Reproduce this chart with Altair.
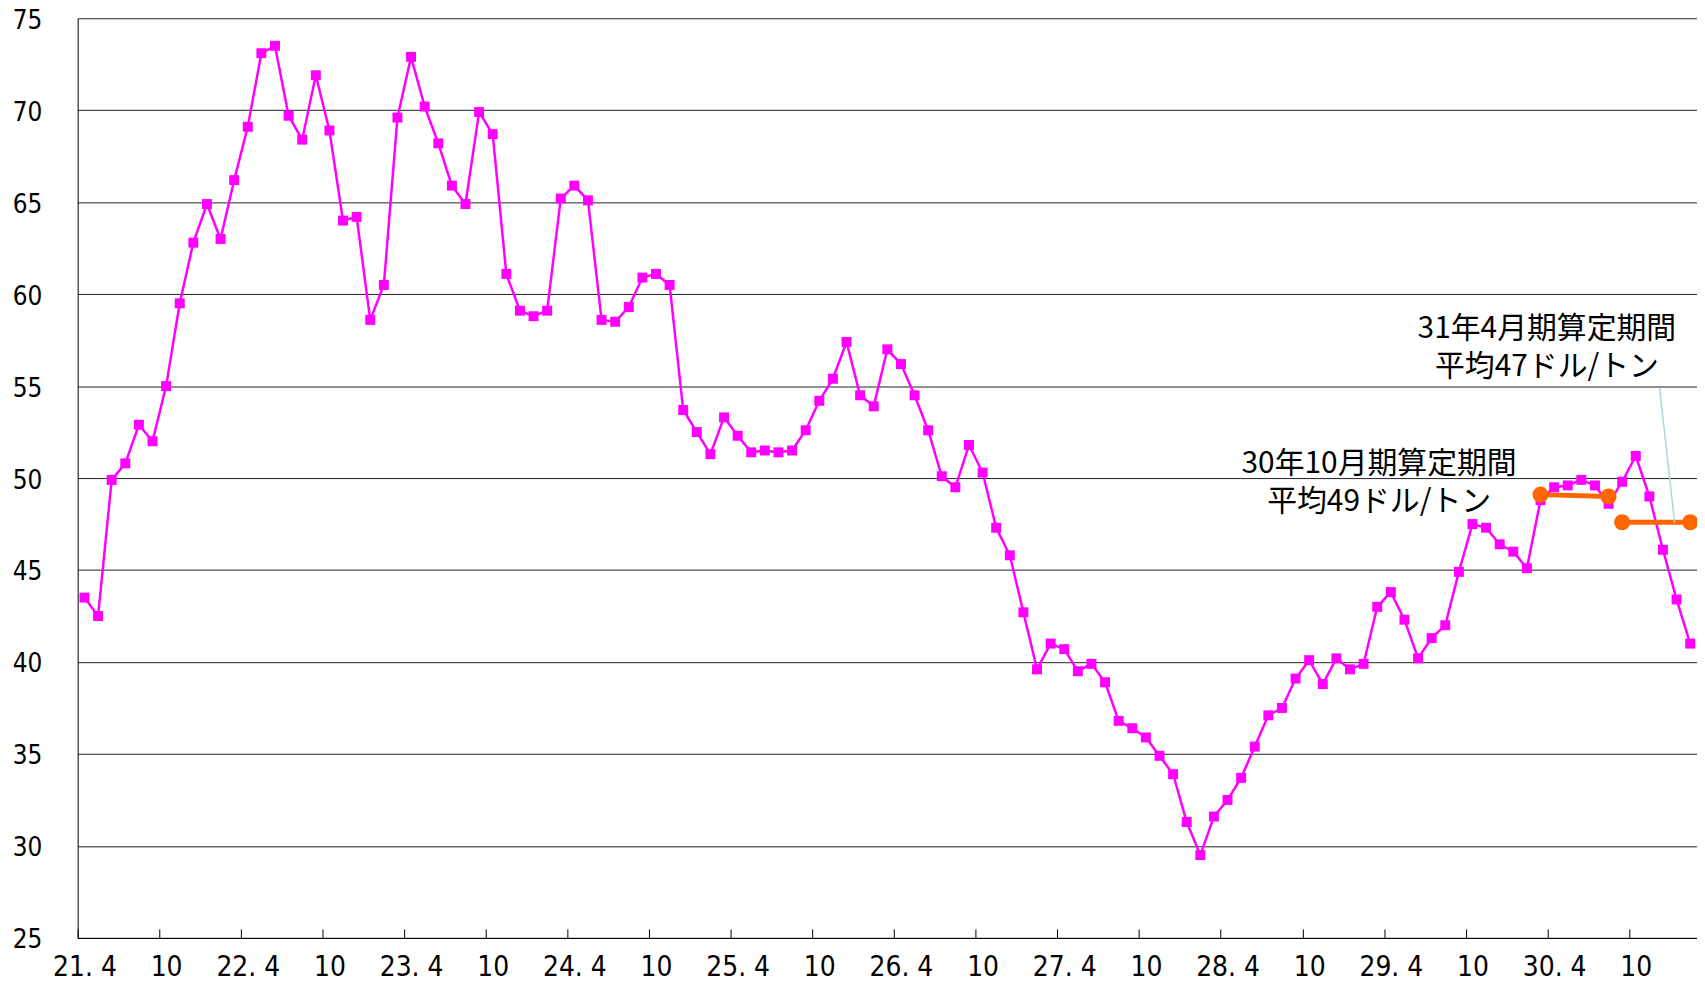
import altair as alt
import pandas as pd

# Monthly price (US$/t), from Heisei 21.4 (Apr 2009) to 31.2 (Feb 2019)
price_2009 = [43.5, 42.5, 49.9, 50.8, 52.9, 52.0, 55.0, 59.5, 62.8]
price_2010 = [64.9, 63.0, 66.2, 69.1, 73.1, 73.5, 69.7, 68.4, 71.9, 68.9, 64.0, 64.2]
price_2011 = [58.6, 60.5, 69.6, 72.9, 70.2, 68.2, 65.9, 64.9, 69.9, 68.7, 61.1, 59.1]
price_2012 = [58.8, 59.1, 65.2, 65.9, 65.1, 58.6, 58.5, 59.3, 60.9, 61.1, 60.5, 53.7]
price_2013 = [52.5, 51.3, 53.3, 52.3, 51.4, 51.5, 51.4, 51.5, 52.6, 54.2, 55.4, 57.4]
price_2014 = [54.5, 53.9, 57.0, 56.2, 54.5, 52.6, 50.1, 49.5, 51.8, 50.3, 47.3, 45.8]
price_2015 = [42.7, 39.6, 41.0, 40.7, 39.5, 39.9, 38.9, 36.8, 36.4, 35.9, 34.9, 33.9]
price_2016 = [31.3, 29.5, 31.6, 32.5, 33.7, 35.4, 37.1, 37.5, 39.1, 40.1, 38.8, 40.2]
price_2017 = [39.6, 39.9, 43.0, 43.8, 42.3, 40.2, 41.3, 42.0, 44.9, 47.5, 47.3, 46.4]
price_2018 = [46.0, 45.1, 48.8, 49.5, 49.6, 49.9, 49.6, 48.6, 49.8, 51.2, 49.0, 46.1]
price_2019 = [43.4, 41.0]

tick_labels = ["21. 4", "10", "22. 4", "10", "23. 4", "10", "24. 4", "10",
               "25. 4", "10", "26. 4", "10", "27. 4", "10", "28. 4", "10",
               "29. 4", "10", "30. 4", "10"]
y_ticks = [25, 30, 35, 40, 45, 50, 55, 60, 65, 70, 75]

# averaging periods (orange segments): month index of start/end and level
avg_seg = [0, 0, 1, 1]
avg_month = [107, 112, 113, 118]
avg_value = [49.1, 49.0, 47.6, 47.6]

# annotation notes (two lines each; position of the first line in month / price units)
note_line1 = ["30年10月期算定期間", "31年4月期算定期間"]
note_line2 = ["平均49ドル/トン", "平均47ドル/トン"]
note_x = [95.64, 107.97]
note_y = [50.75, 58.08]

# leader line from the 31年4月期 note to its segment
leader_x1 = [116.25]
leader_y1 = [54.9]
leader_x2 = [117.35]
leader_y2 = [47.6]

prices = (price_2009 + price_2010 + price_2011 + price_2012 + price_2013 + price_2014
          + price_2015 + price_2016 + price_2017 + price_2018 + price_2019)
n = len(prices)

df = pd.DataFrame({"m": list(range(n)), "price": prices})
avg_df = pd.DataFrame({"seg": avg_seg, "m": avg_month, "val": avg_value})
note_df = pd.DataFrame({"text": [a + "\n" + b for a, b in zip(note_line1, note_line2)],
                        "x": note_x, "y": note_y})
leader_df = pd.DataFrame({"x1": leader_x1, "y1": leader_y1, "x2": leader_x2, "y2": leader_y2})

W, H = 1627, 924
band = W / n

num_font = "DejaVu Sans Condensed, DejaVu Sans, sans-serif"
jp_font = "Noto Sans CJK JP"

x_scale = alt.Scale(domain=[0, n], nice=False, zero=False)
y_scale = alt.Scale(domain=[25, 75], nice=False, zero=False)

tick_vals = [6 * i for i in range(len(tick_labels))]
label_expr = "[" + ",".join("'%s'" % t for t in tick_labels) + "][round(datum.value / 6)]"

label_axis = alt.Axis(orient="bottom", values=tick_vals, labelExpr=label_expr,
                      ticks=False, tickSize=0, domain=True, domainColor="black",
                      domainWidth=1, grid=False, labelFont=num_font, labelFontSize=28,
                      labelColor="black", labelBaseline="alphabetic", labelPadding=38,
                      labelOffset=band / 2, labelAlign="center", labelFlush=False,
                      labelOverlap=False, title=None)
tick_axis = alt.Axis(orient="top", offset=-H, values=tick_vals, labels=False,
                     ticks=True, tickSize=9, tickColor="black", tickWidth=1,
                     domain=False, grid=False, title=None)
y_axis = alt.Axis(orient="left", values=y_ticks, grid=True, gridColor="#222222",
                  gridWidth=1, ticks=False, tickSize=0, domain=True,
                  domainColor="black", domainWidth=1, labelFont=num_font,
                  labelFontSize=26, labelColor="black", labelPadding=36,
                  labelBaseline="middle", labelOffset=2, labelFlush=False,
                  title=None)

base = alt.Chart(df).transform_calculate(pos="datum.m + 0.5")

line = base.mark_line(color="#FF00FF", strokeWidth=2.5).encode(
    x=alt.X("pos:Q", scale=x_scale, axis=label_axis),
    y=alt.Y("price:Q", scale=y_scale, axis=y_axis),
)
points = base.mark_point(shape="square", filled=True, size=100, color="#FF00FF",
                         opacity=1).encode(
    x=alt.X("pos:Q", scale=x_scale, axis=tick_axis),
    y=alt.Y("price:Q", scale=y_scale, axis=None),
)

avg_base = alt.Chart(avg_df).transform_calculate(pos="datum.m + 0.5")
avg_line = avg_base.mark_line(color="#FF6600", strokeWidth=5).encode(
    x=alt.X("pos:Q", scale=x_scale, axis=None),
    y=alt.Y("val:Q", scale=y_scale, axis=None),
    detail="seg:N",
)
avg_pts = avg_base.mark_circle(color="#FF6600", size=260, opacity=1).encode(
    x=alt.X("pos:Q", scale=x_scale, axis=None),
    y=alt.Y("val:Q", scale=y_scale, axis=None),
)

leader = alt.Chart(leader_df).mark_rule(color="#A8D8DC", strokeWidth=1.5).encode(
    x=alt.X("x1:Q", scale=x_scale, axis=None),
    x2="x2:Q",
    y=alt.Y("y1:Q", scale=y_scale, axis=None),
    y2="y2:Q",
)

notes = alt.Chart(note_df).mark_text(font=jp_font, fontSize=30, color="black",
                                     align="center", baseline="middle",
                                     lineBreak="\n", lineHeight=38).encode(
    x=alt.X("x:Q", scale=x_scale, axis=None),
    y=alt.Y("y:Q", scale=y_scale, axis=None),
    text="text:N",
)

chart = alt.layer(line, points, avg_line, avg_pts, leader, notes).resolve_axis(
    x="independent", y="independent"
).properties(
    width=W, height=H,
    padding={"left": 70, "top": 8, "right": 0, "bottom": 39},
    autosize=alt.AutoSizeParams(type="none"),
    background="white",
).configure_view(stroke=None)

chart.save("out.html", embed_options={"renderer": "svg", "actions": False})
